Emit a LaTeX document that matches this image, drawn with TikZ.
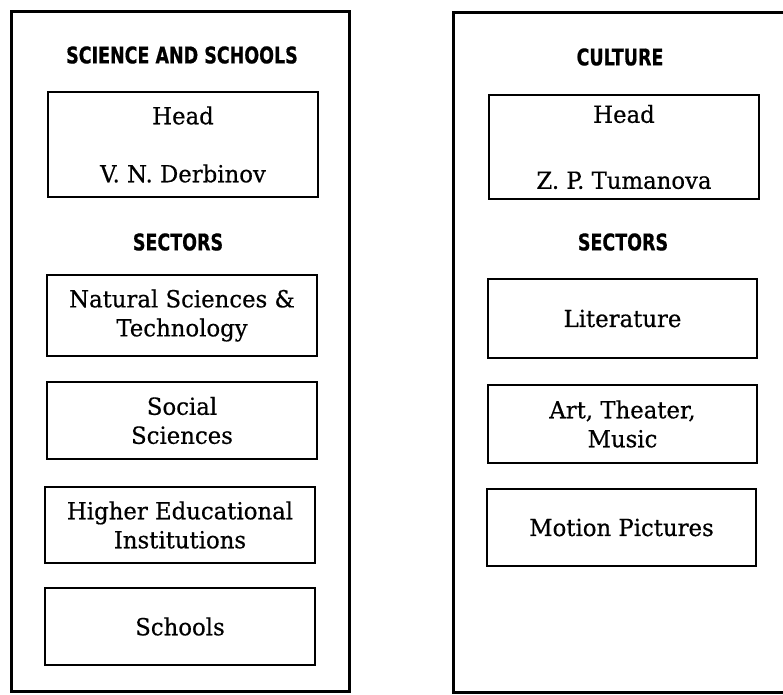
\documentclass[tikz,border=0pt]{standalone}
\usepackage{fontspec}
\newfontfamily\titlefont[FakeStretch=0.76,FakeBold=0.6]{DejaVu Sans}
\newfontfamily\bodyfont[FakeBold=0.5,FakeStretch=0.97]{DejaVu Serif}
\begin{document}
\begin{tikzpicture}[x=1pt,y=-1pt]
\tikzset{
  unitbox/.style={draw, line width=2pt, inner sep=0pt, align=center,
    font=\bodyfont\fontsize{23.5}{29}\selectfont},
  panel/.style={draw, line width=3pt, inner sep=0pt},
  heading/.style={font=\titlefont\bfseries\fontsize{23}{26}\selectfont, inner sep=0pt},
}
\useasboundingbox (0,0) rectangle (783,694);
\clip (0,0) rectangle (783,694);
\fill[white] (0,0) rectangle (783,694);
% left panel
\node[panel, minimum width=338pt, minimum height=680pt] (lpanel) at (180,351) {};
\node[heading] (ltitle) at (182,55) {SCIENCE AND SCHOOLS};
\node[unitbox, minimum width=270pt, minimum height=105pt] (lhead) at (183,144.5) {Head\\[29pt]V. N. Derbinov};
\node[heading] (lsec) at (178,242) {SECTORS};
\node[unitbox, minimum width=270pt, minimum height=81pt] (l1) at (182,315.5) {Natural Sciences \&\\Technology};
\node[unitbox, minimum width=270pt, minimum height=77pt] (l2) at (182,420.5) {Social\\Sciences};
\node[unitbox, minimum width=270pt, minimum height=76pt] (l3) at (180,525) {Higher Educational\\Institutions};
\node[unitbox, minimum width=270pt, minimum height=77pt] (l4) at (180,626.5) {Schools};
% right panel (cut off at the right edge)
\coordinate (rtr) at (820,12);
\coordinate (rtl) at (453,12);
\coordinate (rbl) at (453,692);
\coordinate (rbr) at (820,692);
\draw[line width=3pt] (rtr) -- (rtl) -- (rbl) -- (rbr);
\node[heading] (rtitle) at (620,57) {CULTURE};
\node[unitbox, minimum width=270pt, minimum height=104pt] (rhead) at (624,147) {Head\\[37pt]Z. P. Tumanova};
\node[heading] (rsec) at (623,242) {SECTORS};
\node[unitbox, minimum width=269pt, minimum height=79pt] (r1) at (622.5,318.5) {Literature};
\node[unitbox, minimum width=269pt, minimum height=78pt] (r2) at (622.5,424) {Art, Theater,\\Music};
\node[unitbox, minimum width=269pt, minimum height=77pt] (r3) at (621.5,527.5) {Motion Pictures};
\end{tikzpicture}
\end{document}
